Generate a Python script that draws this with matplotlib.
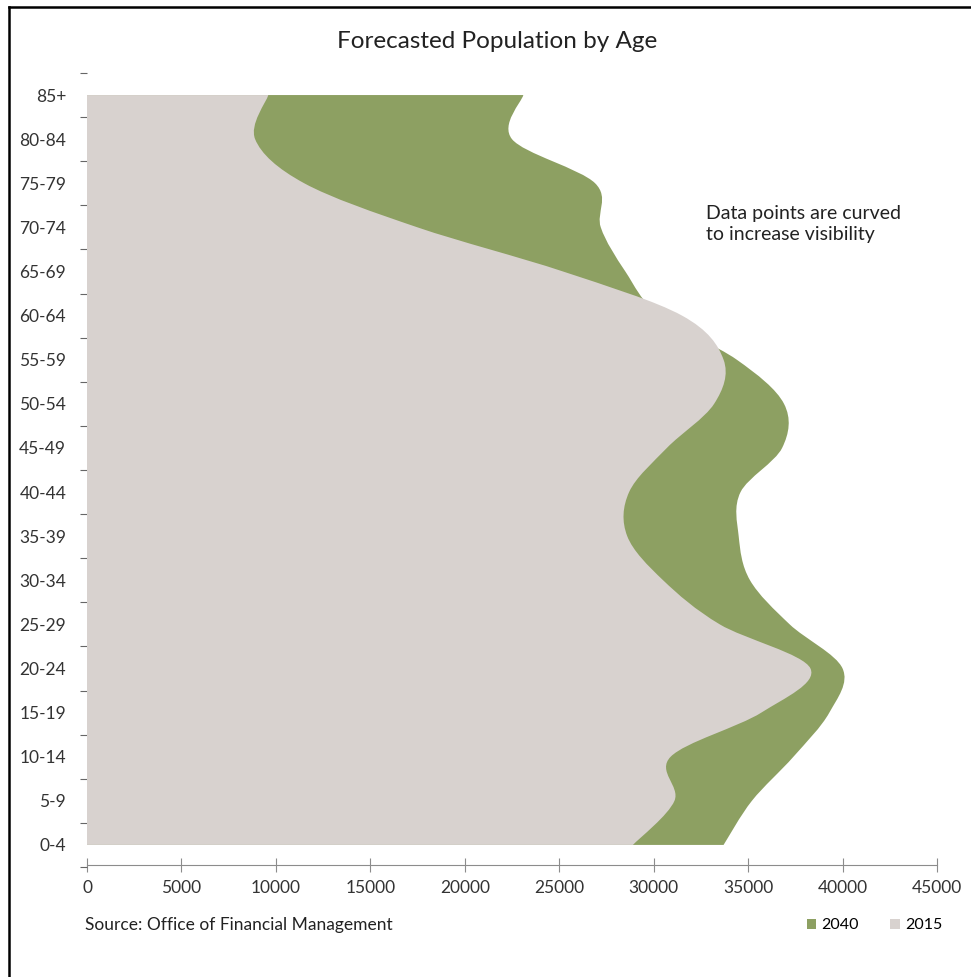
import numpy as np
import matplotlib.pyplot as plt
from matplotlib.path import Path
from matplotlib.patches import PathPatch, Patch
from matplotlib.lines import Line2D

plt.rcParams['font.family'] = ['Lato', 'DejaVu Sans']

age_groups = ['0-4', '5-9', '10-14', '15-19', '20-24', '25-29', '30-34', '35-39', '40-44',
              '45-49', '50-54', '55-59', '60-64', '65-69', '70-74', '75-79', '80-84', '85+']
pop_2015 = [28900, 31100, 30900, 35700, 38300, 33500, 30500, 28600, 28700,
            30700, 33200, 33700, 31500, 25200, 17500, 11500, 8900, 9600]
pop_2040 = [33700, 35200, 37400, 39300, 40000, 37200, 35100, 34500, 34600,
            36800, 36900, 34400, 30300, 28500, 27200, 26900, 22500, 23100]
x_ticks = [0, 5000, 10000, 15000, 20000, 25000, 30000, 35000, 40000, 45000]

green = '#8da062'
grey = '#d8d2cf'


def smooth_area(values):
    # closed area from the y axis out to a smoothed curve through the points
    pts = np.column_stack([values, np.arange(len(values))]).astype(float)
    padded = np.vstack([pts[0], pts, pts[-1]])
    verts = [(0, pts[0, 1]), tuple(pts[0])]
    codes = [Path.MOVETO, Path.LINETO]
    for i in range(len(pts) - 1):
        p0, p1, p2, p3 = padded[i], padded[i + 1], padded[i + 2], padded[i + 3]
        c1 = p1 + (p2 - p0) / 6
        c2 = p2 - (p3 - p1) / 6
        verts += [tuple(c1), tuple(c2), tuple(p2)]
        codes += [Path.CURVE4] * 3
    verts += [(0, pts[-1, 1]), (0, pts[0, 1])]
    codes += [Path.LINETO, Path.CLOSEPOLY]
    return Path(verts, codes)


fig = plt.figure(figsize=(9.71, 9.77), dpi=100)
ax = fig.add_axes([0.0896, 0.1126, 0.8754, 0.8127])

ax.add_patch(PathPatch(smooth_area(pop_2040), facecolor=green, edgecolor='none', zorder=2))
ax.add_patch(PathPatch(smooth_area(pop_2015), facecolor=grey, edgecolor='none', zorder=3))

ax.set_xlim(0, 45000)
ax.set_ylim(-0.5, 17.5)
ax.set_xticks(x_ticks)
ax.set_xticklabels([str(t) for t in x_ticks])
ax.set_yticks(range(len(age_groups)))
ax.set_yticklabels(age_groups)
ax.set_yticks(np.arange(-0.5, 18, 1), minor=True)

for s in ['top', 'right', 'left']:
    ax.spines[s].set_visible(False)
ax.spines['bottom'].set_color('#8c8c8c')
ax.spines['bottom'].set_position(('data', -0.45))
ax.tick_params(axis='x', direction='inout', length=10, color='#8c8c8c',
               labelsize=12.5, labelcolor='#333333', pad=6)
ax.tick_params(axis='y', which='major', length=0, labelsize=12.5, labelcolor='#333333', pad=15)
ax.tick_params(axis='y', which='minor', length=5, color='#666666', width=0.8)

fig.text(0.512, 0.958, 'Forecasted Population by Age', ha='center', va='center',
         fontsize=17.5, color='#222222')
ax.text(0.728, 0.834, 'Data points are curved\nto increase visibility', transform=ax.transAxes,
        fontsize=14, color='#222222', va='top', ha='left', linespacing=1.32)
fig.text(0.088, 0.053, 'Source: Office of Financial Management', ha='left', va='center',
         fontsize=12.5, color='#222222')

handles = [Patch(facecolor=green, label='2040'), Patch(facecolor=grey, label='2015')]
fig.legend(handles=handles, loc='center right', bbox_to_anchor=(0.985, 0.053), ncol=2,
           frameon=False, fontsize=11.5, handlelength=0.6, handleheight=0.6,
           handletextpad=0.3, columnspacing=2.0)

fig.add_artist(Line2D([0.009, 1.0], [0.9925, 0.9925], color='black', lw=1.8,
                      transform=fig.transFigure))
fig.add_artist(Line2D([0.009, 0.009], [0.0, 0.9925], color='black', lw=1.8,
                      transform=fig.transFigure))

fig.savefig('out.png', dpi=100)
